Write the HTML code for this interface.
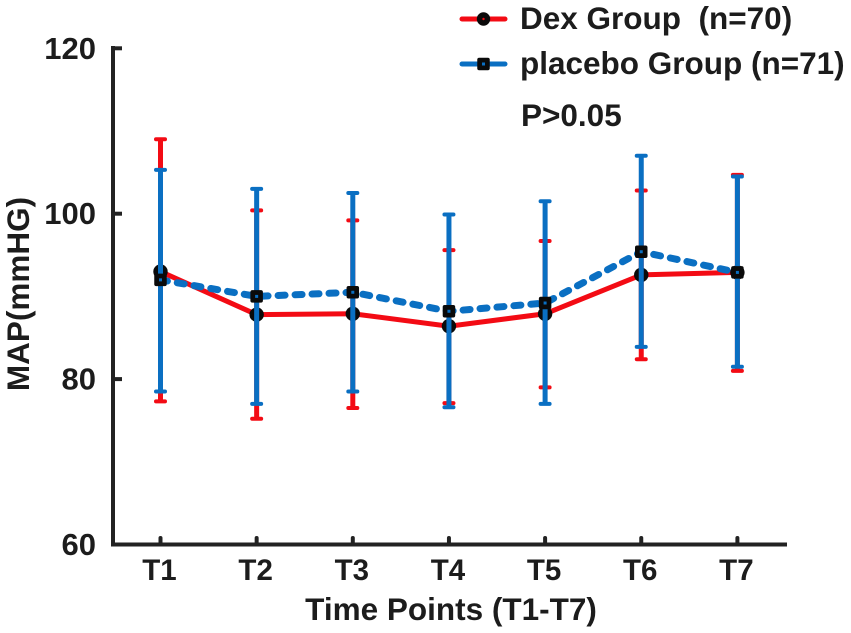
<!DOCTYPE html>
<html>
<head>
<meta charset="utf-8">
<style>
html,body{margin:0;padding:0;background:#fff;width:851px;height:633px;overflow:hidden}
svg{display:block}
text{font-family:"Liberation Sans",Arial,sans-serif;font-weight:bold;fill:#1c1c1c;white-space:pre}
</style>
</head>
<body>
<svg id="chart" width="851" height="633" viewBox="0 0 851 633" xmlns="http://www.w3.org/2000/svg"></svg>
<script>
const categories = ['T1','T2','T3','T4','T5','T6','T7'];
const yTicks = [60,80,100,120];
const dexMean = [93,87.8,87.9,86.4,87.9,92.6,92.9];
const dexUpper = [109,100.4,99.2,95.6,96.7,102.8,104.7];
const dexLower = [77.3,75.2,76.5,77.1,79,82.4,81];
const placeboMean = [92,90,90.5,88.2,89.2,95.4,92.9];
const placeboUpper = [105.3,103,102.5,99.9,101.5,107,104.5];
const placeboLower = [78.5,77,78.5,76.6,77,83.9,81.5];

const RED = '#f30b14', BLUE = '#0a6fc2', INK = '#222';
const svg = document.getElementById('chart');
const NS = 'http://www.w3.org/2000/svg';
const xAt = i => 160.5 + i * 96.15;
const yAt = v => 544.5 - (v - 60) * 8.27;

function make(tag, attrs, parent) {
  const el = document.createElementNS(NS, tag);
  for (const k in attrs) el.setAttribute(k, attrs[k]);
  (parent || svg).appendChild(el);
  return el;
}
function group(name) {
  const g = make('g', {});
  
  
  return g;
}
function label(str, x, y, size, anchor, parent) {
  const t = make('text', {x: x, y: y, 'font-size': size, 'text-anchor': anchor}, parent);
  t.textContent = str;
  return t;
}

// Axes
const axes = group('axes');
make('path', {d: 'M113 48V544.5H785', fill: 'none', stroke: INK, 'stroke-width': 4, 'stroke-linecap': 'square'}, axes);
yTicks.forEach(v => {
  const g = group('y-tick-' + v);
  make('line', {x1: 113, x2: 122, y1: yAt(v), y2: yAt(v), stroke: INK, 'stroke-width': 4}, g);
  label(String(v), 96, yAt(v) + 10.5, 31, 'end', g);
});
categories.forEach((c, i) => {
  const g = group('x-tick-' + c.toLowerCase());
  make('line', {x1: xAt(i), x2: xAt(i), y1: 544, y2: 538, stroke: INK, 'stroke-width': 4, 'stroke-linecap': 'round'}, g);
  label(c, xAt(i) - 1, 580, 29.5, 'middle', g);
});
const xTitle = label('Time Points (T1-T7)', 451, 620, 31.5, 'middle');


const yTitle = label('MAP(mmHG)', 0, 0, 31.5, 'middle');
yTitle.setAttribute('transform', 'translate(29 294) rotate(-90)');



function errorBars(name, upper, lower, color) {
  const g = group(name);
  categories.forEach((c, i) => {
    const x = xAt(i);
    make('line', {x1: x, x2: x, y1: yAt(upper[i]), y2: yAt(lower[i]), stroke: color, 'stroke-width': 5}, g);
    [upper[i], lower[i]].forEach(v => {
      make('line', {x1: x - 4.5, x2: x + 4.5, y1: yAt(v), y2: yAt(v), stroke: color, 'stroke-width': 4, 'stroke-linecap': 'round'}, g);
    });
  });
}
function seriesPath(values) {
  return values.map((v, i) => (i ? 'L' : 'M') + xAt(i) + ' ' + yAt(v)).join('');
}
function circleMarker(x, y, g, r) {
  make('circle', {cx: x, cy: y, r: r, fill: '#0a0a0a'}, g);
  make('circle', {cx: x, cy: y, r: 1.2, fill: RED}, g);
}
function squareMarker(x, y, g, s) {
  make('rect', {x: x - s / 2, y: y - s / 2, width: s, height: s, rx: 2, fill: '#0a0a0a'}, g);
  make('rect', {x: x - 1.5, y: y - 1.5, width: 3, height: 3, fill: BLUE}, g);
}

errorBars('dex-error-bars', dexUpper, dexLower, RED);
const dexSeries = group('dex-series');
make('path', {d: seriesPath(dexMean), fill: 'none', stroke: RED, 'stroke-width': 5}, dexSeries);
dexMean.forEach((v, i) => circleMarker(xAt(i), yAt(v), dexSeries, 7.2));
errorBars('placebo-error-bars', placeboUpper, placeboLower, BLUE);
const placeboSeries = group('placebo-series');
make('path', {d: seriesPath(placeboMean), fill: 'none', stroke: BLUE, 'stroke-width': 7, 'stroke-dasharray': '7 10', 'stroke-linecap': 'round'}, placeboSeries);
placeboMean.forEach((v, i) => squareMarker(xAt(i), yAt(v), placeboSeries, 12.5));

// Legend
const legendDex = group('legend-entry-dex');
make('line', {x1: 462, x2: 505, y1: 19, y2: 19, stroke: RED, 'stroke-width': 5, 'stroke-linecap': 'round'}, legendDex);
circleMarker(483.5, 19, legendDex, 6.7);
label('Dex Group  (n=70)', 520, 29, 31.5, 'start', legendDex);
const legendPlacebo = group('legend-entry-placebo');
make('line', {x1: 462, x2: 505, y1: 64, y2: 64, stroke: BLUE, 'stroke-width': 5, 'stroke-linecap': 'round'}, legendPlacebo);
squareMarker(483.5, 64, legendPlacebo, 12.5);
label('placebo Group (n=71)', 520, 74, 31.5, 'start', legendPlacebo);
const pValue = label('P>0.05', 521, 126, 31.5, 'start');


</script>
</body>
</html>
